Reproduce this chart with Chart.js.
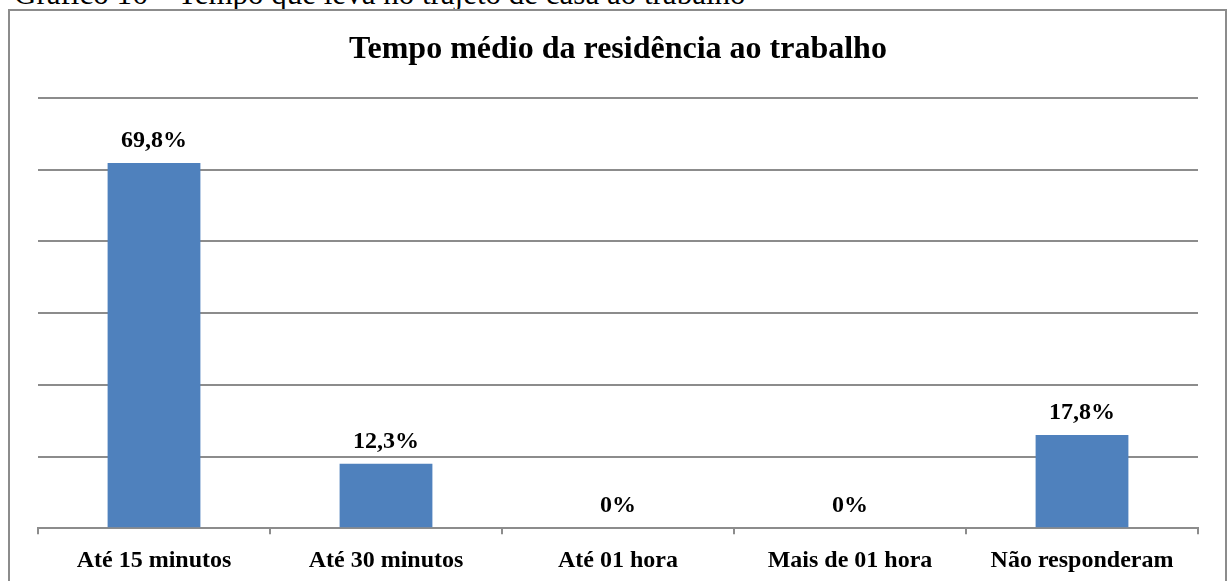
<!DOCTYPE html>
<html lang="pt">

<head>
    <meta charset="UTF-8">
    <title>Tempo médio da residência ao trabalho</title>
    <style>
        html,
        body {
            margin: 0;
            padding: 0;
            background: #fff;
            overflow: hidden;
        }

        .legenda {
            position: absolute;
            left: 14px;
            top: -22px;
            font-family: "Liberation Serif", serif;
            font-size: 31px;
            line-height: 31px;
            white-space: nowrap;
            color: #000;
        }

        .moldura {
            position: absolute;
            left: 8px;
            top: 9px;
            width: 1215px;
            height: 700px;
            border: 2px solid #8c8c8c;
        }

        #grafico {
            position: absolute;
            left: 0;
            top: 0;
        }
    </style>
    <script src="https://cdn.jsdelivr.net/npm/chart.js"></script>
</head>

<body>
    <div class="legenda">Gráfico 16 – Tempo que leva no trajeto de casa ao trabalho</div>
    <div class="moldura"></div>
    <canvas id="grafico" width="1228" height="581"></canvas>

    <script>
        // dados
        const categorias = ['Até 15 minutos', 'Até 30 minutos', 'Até 01 hora', 'Mais de 01 hora', 'Não responderam'];
        const percentuais = [69.8, 12.3, 0, 0, 17.8];
        const rotulos = ['69,8%', '12,3%', '0%', '0%', '17,8%'];
        const eixoMax = 82.2;
        const eixoPasso = 13.7;

        const fonte = '"Liberation Serif", "Times New Roman", serif';
        const cinza = '#8c8c8c';

        // escreve o valor acima de cada barra
        const rotulosBarras = {
            id: 'rotulosBarras',
            afterDatasetsDraw(chart) {
                const ctx = chart.ctx;
                const meta = chart.getDatasetMeta(0);
                ctx.save();
                ctx.font = 'bold 24px ' + fonte;
                ctx.fillStyle = '#000';
                ctx.textAlign = 'center';
                ctx.textBaseline = 'alphabetic';
                meta.data.forEach(function (barra, i) {
                    ctx.fillText(rotulos[i], barra.x, barra.y - 16);
                });
                ctx.restore();
            }
        };

        new Chart(document.getElementById('grafico'), {
            type: 'bar',
            data: {
                labels: categorias,
                datasets: [{
                    data: percentuais,
                    backgroundColor: '#4F81BD',
                    borderWidth: 0,
                    categoryPercentage: 1,
                    barPercentage: 0.4
                }]
            },
            options: {
                responsive: false,
                animation: false,
                devicePixelRatio: 1,
                layout: {
                    padding: { left: 38, right: 30, top: 0, bottom: -6 }
                },
                plugins: {
                    legend: { display: false },
                    tooltip: { enabled: false },
                    title: {
                        display: true,
                        text: 'Tempo médio da residência ao trabalho',
                        color: '#000',
                        font: { family: fonte, size: 32, weight: 'bold' },
                        padding: { top: 31, bottom: 28.6 }
                    }
                },
                scales: {
                    x: {
                        border: { display: true, color: cinza, width: 2 },
                        grid: {
                            display: true,
                            drawOnChartArea: false,
                            drawTicks: true,
                            tickLength: 6,
                            color: cinza,
                            lineWidth: 2
                        },
                        ticks: {
                            color: '#000',
                            padding: 12,
                            maxRotation: 0,
                            font: { family: fonte, size: 24, weight: 'bold' }
                        }
                    },
                    y: {
                        min: 0,
                        max: eixoMax,
                        border: { display: false },
                        grid: {
                            color: cinza,
                            lineWidth: 2,
                            drawTicks: false
                        },
                        ticks: {
                            display: false,
                            stepSize: eixoPasso
                        }
                    }
                }
            },
            plugins: [rotulosBarras]
        });
    </script>
</body>

</html>
